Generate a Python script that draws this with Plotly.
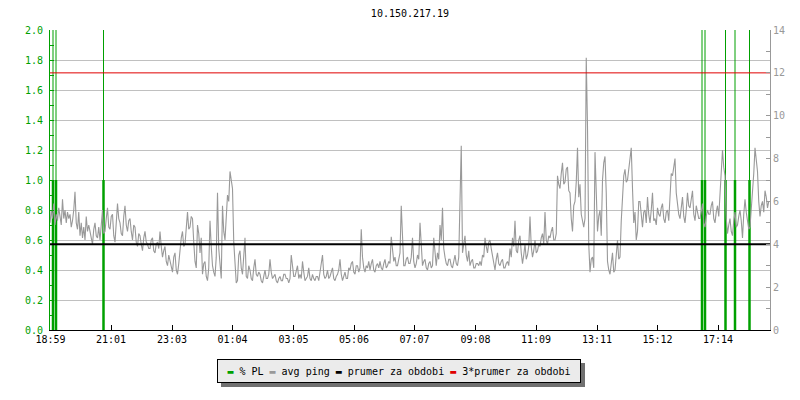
import plotly.graph_objects as go

# ---------------- data ----------------
title_text = "10.150.217.19"
tick_labels = ["18:59", "21:01", "23:03", "01:04", "03:05", "05:06",
               "07:07", "09:08", "11:09", "13:11", "15:12", "17:14"]
tick_offsets_min = [1, 122, 244, 365, 487, 608, 729, 851, 972, 1094, 1215, 1336]
period_min = 1440
sample_interval_min = 2.5

# avg ping [ms], one value every 2.5 minutes (rows = 20 minutes)
avg_ping_ms = [
    5.0, 5.6, 5.2, 5.9, 4.9, 5.4, 5.1, 5.7,
    5.3, 4.9, 6.1, 5.2, 5.6, 5.0, 5.5, 5.2,
    5.4, 4.8, 5.1, 5.6, 6.45, 5.0, 4.7, 5.5,
    4.4, 5.0, 4.3, 4.8, 4.2, 5.3, 4.6, 4.9,
    4.6, 4.2, 4.0, 4.7, 5.0, 4.4, 4.3, 4.8,
    4.2, 4.9, 5.6, 4.5, 4.6, 5.2, 5.7, 4.8,
    4.7, 5.3, 5.4, 4.4, 4.1, 5.0, 5.9, 5.2,
    5.0, 4.5, 4.4, 5.3, 5.8, 4.9, 4.6, 5.1,
    5.2, 4.6, 4.2, 4.9, 4.8, 4.1, 3.9, 4.5,
    4.4, 4.0, 3.7, 4.3, 4.6, 4.1, 4.0, 3.8,
    3.8, 4.2, 4.3, 3.7, 3.6, 4.0, 4.1, 3.8,
    4.6, 3.9, 3.4, 3.7, 3.9, 3.2, 3.0, 3.5,
    3.2, 2.9, 2.7, 3.4, 3.6, 2.8, 2.6, 3.1,
    3.8, 4.3, 4.6, 3.9, 4.0, 4.8, 5.5, 4.7,
    4.8, 5.3, 5.2, 4.1, 3.2, 2.9, 4.9, 4.5,
    3.6, 4.3, 2.6, 3.1, 3.2, 2.5, 2.3, 2.9,
    5.1, 3.9, 3.0, 2.7, 2.5, 3.4, 6.4, 3.8,
    3.2, 2.4, 5.8, 4.6, 4.2, 5.4, 6.3, 6.0,
    7.4, 7.0, 6.6, 4.1, 3.0, 2.2, 2.3, 3.5,
    3.7, 2.9, 2.6, 3.4, 4.3, 2.5, 2.4, 3.0,
    2.8, 2.4, 2.3, 2.9, 3.3, 2.6, 2.5, 2.7,
    2.6, 2.3, 2.2, 2.5, 2.8, 2.4, 2.4, 2.6,
    3.3, 2.7, 2.4, 2.5, 2.6, 2.3, 2.2, 2.4,
    2.5, 2.3, 2.3, 2.6, 2.6, 2.4, 2.4, 2.2,
    2.4, 3.5, 3.1, 2.5, 2.5, 2.8, 3.0, 2.4,
    2.6, 2.4, 3.2, 2.7, 2.3, 2.4, 2.5, 2.9,
    2.4, 2.3, 2.6, 2.4, 2.3, 2.5, 2.5, 2.3,
    2.7, 2.9, 3.5, 2.6, 2.4, 2.5, 2.8, 2.4,
    2.5, 2.7, 2.9, 2.4, 2.3, 2.5, 2.6, 2.8,
    3.3, 2.6, 2.3, 2.5, 2.7, 2.4, 2.4, 2.9,
    2.8, 3.1, 3.2, 2.7, 2.6, 3.0, 3.0, 2.7,
    2.9, 4.7, 3.4, 2.9, 2.7, 3.0, 2.9, 3.2,
    2.8, 3.1, 3.3, 2.8, 2.7, 3.0, 3.1, 2.9,
    3.2, 2.9, 2.8, 3.1, 3.3, 2.9, 3.0, 3.2,
    3.1, 4.35, 3.8, 3.2, 3.4, 3.0, 3.0, 3.3,
    3.6, 5.8, 4.2, 3.0, 3.0, 3.3, 3.4, 3.1,
    3.1, 3.4, 4.3, 3.2, 2.9, 3.1, 3.5, 3.3,
    5.0, 3.6, 3.0, 3.2, 3.3, 2.9, 2.8, 3.1,
    3.2, 2.9, 3.0, 4.3, 3.4, 3.0, 3.6, 3.3,
    4.9, 4.2, 5.7, 3.8, 3.4, 3.1, 3.0, 3.3,
    3.3, 3.0, 2.9, 3.2, 3.5, 3.1, 3.0, 3.4,
    6.6, 8.6, 3.6, 4.1, 4.4, 3.5, 3.2, 3.7,
    3.0, 3.2, 3.3, 2.9, 2.9, 3.1, 3.1, 3.0,
    3.2, 3.0, 3.5, 3.4, 4.3, 3.9, 3.6, 4.1,
    4.2, 3.8, 3.4, 3.0, 2.8, 3.3, 3.6, 3.1,
    3.0, 3.2, 3.3, 2.9, 2.9, 3.1, 3.2, 3.0,
    3.8, 3.4, 4.3, 3.9, 5.1, 3.7, 3.6, 4.2,
    4.4, 3.6, 3.1, 3.5, 4.0, 3.3, 3.5, 3.9,
    5.3, 3.9, 3.4, 3.7, 4.2, 3.6, 3.7, 4.0,
    3.9, 4.3, 4.5, 4.0, 5.5, 4.2, 4.0, 4.4,
    4.3, 4.6, 4.8, 4.2, 4.2, 4.5, 7.2, 6.8,
    6.6, 7.3, 7.8, 6.8, 6.9, 7.5, 7.6, 6.5,
    6.4, 5.2, 4.6, 5.8, 6.0, 6.9, 8.5, 6.2,
    6.8, 5.4, 5.0, 4.8, 5.2, 12.7, 9.5, 4.0,
    2.7, 3.3, 3.4, 2.9, 8.3, 5.9, 4.6, 5.3,
    5.6, 4.4, 7.0, 7.8, 8.1, 6.4, 3.2, 2.8,
    2.6, 3.1, 3.6, 2.7, 2.8, 3.5, 4.2, 3.3,
    3.4, 5.1, 6.6, 7.2, 7.5, 6.9, 7.0, 7.6,
    8.0, 8.5, 6.6, 5.0, 5.5, 4.2, 4.6, 6.0,
    6.0, 5.2, 4.8, 5.5, 5.6, 5.0, 6.2, 5.4,
    5.0, 5.6, 6.4, 5.1, 5.2, 4.9, 5.7, 5.4,
    5.3, 5.7, 5.9, 5.2, 5.0, 5.5, 5.6, 5.1,
    6.5, 7.3, 7.2, 7.6, 8.0, 6.4, 5.8, 5.4,
    5.2, 5.9, 6.2, 5.3, 5.0, 5.6, 6.4, 5.8,
    5.7, 6.1, 6.5, 5.4, 5.1, 5.8, 5.5, 5.2,
    5.2, 5.6, 5.9, 5.0, 4.8, 5.3, 5.6, 5.4,
    5.4, 5.8, 6.0, 5.2, 5.0, 5.5, 5.8, 5.3,
    6.3, 6.8, 8.4, 7.6, 7.2, 5.2, 4.5, 4.9,
    5.2, 4.6, 4.4, 5.1, 5.5, 4.8, 4.9, 5.3,
    5.6, 5.1, 4.3, 5.4, 6.1, 5.5, 5.0, 4.7,
    4.8, 5.6, 6.6, 7.3, 8.5, 7.9, 7.4, 6.0,
    5.3, 5.8, 6.0, 5.5, 6.5, 6.2, 5.7, 6.0,
]

# packet loss events [minutes from start, % PL]
pl_event_min = [6, 12, 107, 1304, 1310, 1351, 1370, 1399]
pl_event_pct = [100, 100, 100, 100, 100, 100, 100, 100]

avg_period_ms = 4.0          # "prumer za obdobi"
avg_period_factor = 3        # "3*prumer za obdobi"

# ---------------- styling ----------------
GREEN = "#00a000"
GRAY = "#999999"
RED = "#e00000"
FONT = "DejaVu Sans Mono"

ping_x = [i * sample_interval_min for i in range(len(avg_ping_ms))]

pl_thin_x, pl_thin_y, pl_thick_x, pl_thick_y = [], [], [], []
for t, v in zip(pl_event_min, pl_event_pct):
    pl_thin_x += [t, t, None]
    pl_thin_y += [0, v, None]
    pl_thick_x += [t, t, None]
    pl_thick_y += [0, min(v, 1.0), None]

fig = go.Figure()

fig.add_trace(go.Scatter(x=ping_x, y=avg_ping_ms, mode="lines", yaxis="y2",
                         line=dict(color=GRAY, width=1.1), showlegend=False,
                         name="avg ping"))
fig.add_trace(go.Scatter(x=[0, period_min], y=[avg_period_ms, avg_period_ms],
                         mode="lines", yaxis="y2", line=dict(color="black", width=2),
                         showlegend=False, name="prumer za obdobi"))
fig.add_trace(go.Scatter(x=[0, period_min],
                         y=[avg_period_factor * avg_period_ms] * 2,
                         mode="lines", yaxis="y2", line=dict(color=RED, width=1),
                         showlegend=False, name="3*prumer za obdobi"))
fig.add_trace(go.Scatter(x=pl_thin_x, y=pl_thin_y, mode="lines",
                         line=dict(color=GREEN, width=1), showlegend=False,
                         name="% PL", connectgaps=False))
fig.add_trace(go.Scatter(x=pl_thick_x, y=pl_thick_y, mode="lines",
                         line=dict(color=GREEN, width=2.5), showlegend=False,
                         name="% PL", connectgaps=False))

fig.update_layout(
    width=800, height=400,
    margin=dict(l=50, r=30, t=30, b=70),
    paper_bgcolor="white", plot_bgcolor="white",
    font=dict(family=FONT, size=10, color="black"),
    title=dict(text=title_text, x=0.5, xref="paper", xanchor="center",
               y=1 - 13 / 400, yref="container", yanchor="middle",
               font=dict(family=FONT, size=10, color="black")),
    xaxis=dict(range=[0, period_min], tickvals=tick_offsets_min, ticktext=tick_labels,
               showgrid=False, zeroline=False, showline=True, linecolor="black",
               linewidth=1, ticks="inside", ticklen=5, tickcolor="black",
               automargin=False,
               tickfont=dict(family=FONT, size=10, color="black")),
    yaxis=dict(range=[0, 2.0], dtick=0.2, tickformat=".1f", showgrid=True,
               gridcolor="#c0c0c0", gridwidth=1, zeroline=False, showline=True,
               linecolor=GREEN, linewidth=1, ticks="inside", ticklen=4,
               tickcolor=GREEN, ticklabelstandoff=4, automargin=False,
               tickfont=dict(family=FONT, size=10, color=GREEN),
               minor=dict(dtick=0.1, ticks="inside", ticklen=4, tickcolor=GREEN,
                          showgrid=False)),
    yaxis2=dict(range=[0, 14], dtick=2, overlaying="y", side="right",
                showgrid=False, zeroline=False, showline=True, linecolor="#999999",
                linewidth=1, ticks="inside", ticklen=4, tickcolor="#999999",
                automargin=False,
                tickfont=dict(family=FONT, size=10, color="#999999"),
                minor=dict(dtick=1, ticks="inside", ticklen=4, tickcolor="#999999",
                           showgrid=False)),
)

legend_text = (f'<span style="color:{GREEN}">▬</span> % PL '
               f'<span style="color:{GRAY}">▬</span> avg ping '
               f'<span style="color:black">▬</span> prumer za obdobi '
               f'<span style="color:{RED}">▬</span> 3*prumer za obdobi')

# legend shadow
fig.add_shape(type="rect", xref="paper", yref="paper",
              x0=(221 - 50) / 720, x1=(585 - 50) / 720,
              y0=(330 - 387) / 300, y1=(330 - 363) / 300,
              fillcolor="#707070", line=dict(width=0), layer="above")
fig.add_annotation(xref="paper", yref="paper", x=(399 - 50) / 720, y=(330 - 371) / 300,
                   xanchor="center", yanchor="middle", showarrow=False,
                   text=legend_text, width=362, height=22, borderpad=0,
                   bgcolor="#ebebeb", bordercolor="black", borderwidth=1,
                   font=dict(family=FONT, size=10, color="black"))

fig.write_html("out.html", config={"displayModeBar": False},
               post_script="document.body.style.margin='0';document.body.style.padding='0';")
